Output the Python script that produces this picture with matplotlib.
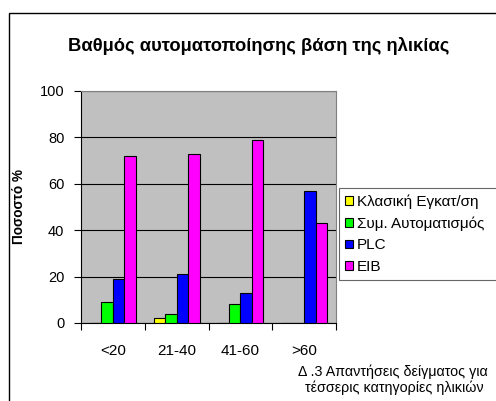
import matplotlib
matplotlib.use("Agg")
import matplotlib.pyplot as plt
from matplotlib.patches import Rectangle
import numpy as np

plt.rcParams['font.family'] = ['Liberation Sans', 'DejaVu Sans']

# data
age_groups = ['<20', '21-40', '41-60', '>60']
series_names = ['Κλασική Εγκατ/ση', 'Συμ. Αυτοματισμός', 'PLC', 'EIB']
klasiki = [0, 2, 0, 0]
sym_autom = [9, 4, 8, 0]
plc = [19, 21, 13, 57]
eib = [72, 73, 79, 43]
colors = ['#FFFF00', '#00FF00', '#0000FF', '#FF00FF']

W, H = 496, 401
fig = plt.figure(figsize=(W / 100, H / 100), dpi=100)
fig.patch.set_facecolor('white')

# outer chart frame (left + top visible)
fig.add_artist(Rectangle((9 / W, -0.1), 1.2, 1 - 13 / H + 0.1, transform=fig.transFigure,
                         fill=False, edgecolor='black', linewidth=1.0))

ax = fig.add_axes([81 / W, 1 - 323 / H, (336 - 81) / W, (323 - 91) / H])
ax.set_facecolor('#C0C0C0')

x = np.arange(len(age_groups))
bw = 0.18
all_series = [klasiki, sym_autom, plc, eib]
for i, (vals, name, c) in enumerate(zip(all_series, series_names, colors)):
    offs = (i - 1.5) * bw
    ax.bar(x + offs, vals, bw, color=c, edgecolor='black', linewidth=0.8,
           label=name, zorder=3)

ax.set_ylim(0, 100)
ax.set_xlim(-0.5, 3.5)
ax.set_yticks([0, 20, 40, 60, 80, 100])
ax.yaxis.grid(True, color='black', linewidth=0.8, zorder=1)
ax.set_axisbelow(True)

ax.set_xticks(x)
ax.set_xticklabels(age_groups, fontsize=11)
ax.set_xticks([-0.5, 0.5, 1.5, 2.5, 3.5], minor=True)
ax.tick_params(axis='x', which='major', length=0, pad=15)
ax.tick_params(axis='x', which='minor', length=5, width=0.8, direction='out')
ax.tick_params(axis='y', labelsize=10.5, length=5, width=0.8, direction='out', pad=7)

for side in ['top', 'right']:
    ax.spines[side].set_color('#808080')
ax.spines['left'].set_color('black')
ax.spines['bottom'].set_color('black')

ax.set_ylabel('Ποσοστό %', fontsize=9.8, fontweight='bold', labelpad=10)

fig.text(259 / W, 1 - 46 / H, 'Βαθμός αυτοματοποίησης βάση της ηλικίας',
         ha='center', va='center', fontsize=13.2, fontweight='bold')

# legend box runs off the right edge, as in the reference
leg = fig.legend(loc='upper left', bbox_to_anchor=(339 / W, 1 - 188 / H, 0.4, 0),
                 mode='expand', fontsize=11, frameon=True, fancybox=False,
                 handlelength=0.5, handleheight=0.5, handletextpad=0.25,
                 labelspacing=0.5, borderaxespad=0, borderpad=0.4)
leg.get_frame().set_edgecolor('#404040')
leg.get_frame().set_linewidth(0.8)

fig.text(393 / W, 1 - 372 / H, 'Δ .3 Απαντήσεις δείγματος για',
         ha='center', va='center', fontsize=10.3)
fig.text(394 / W, 1 - 388 / H, 'τέσσερις κατηγορίες ηλικιών',
         ha='center', va='center', fontsize=10.3)

fig.savefig('out.png', dpi=100)
